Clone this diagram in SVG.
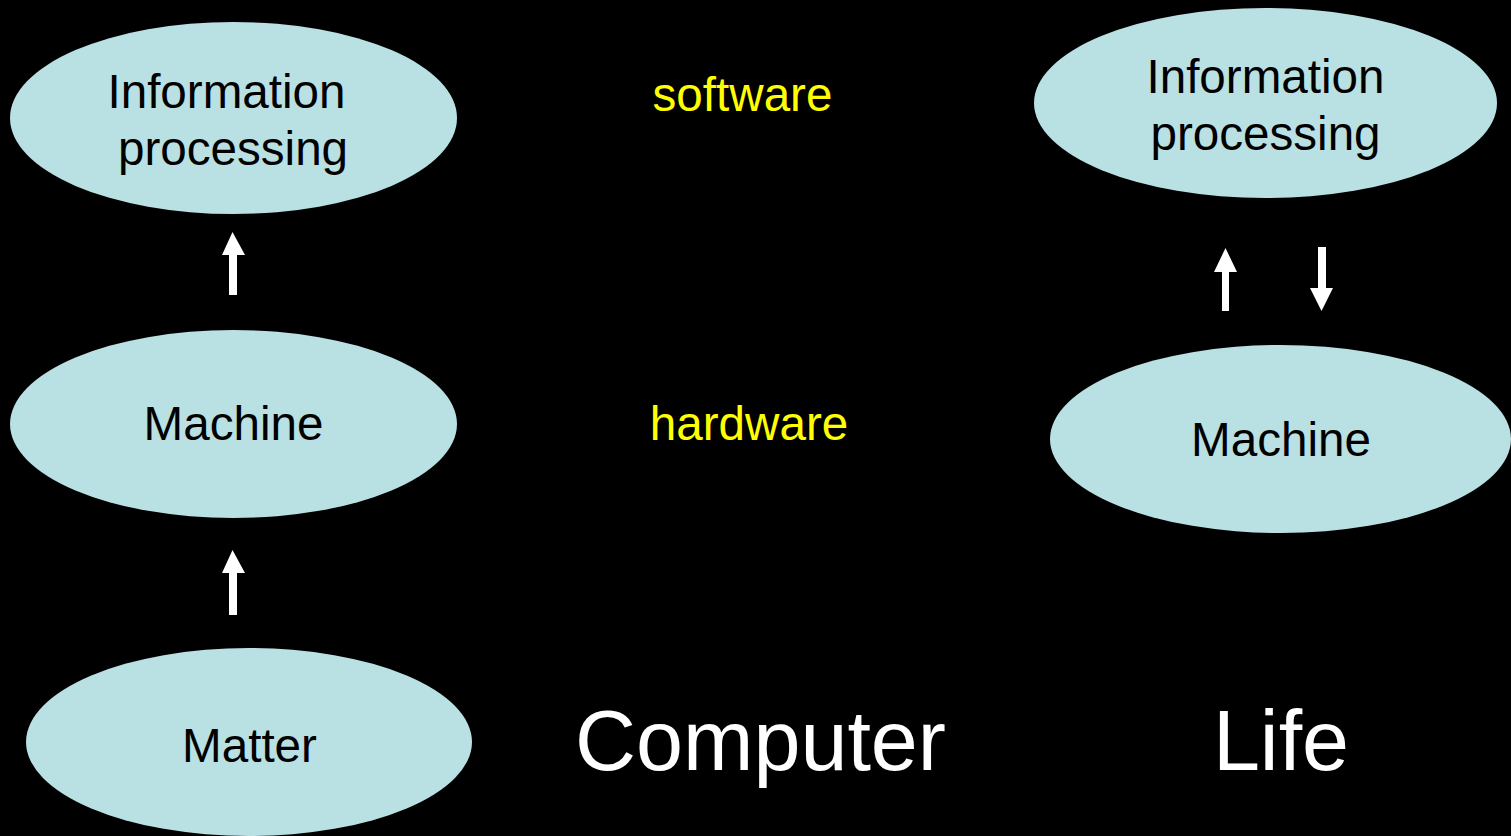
<svg xmlns="http://www.w3.org/2000/svg" width="1511" height="836" viewBox="0 0 1511 836">
<style>
.node{fill:#b9e0e3}
.lbl{font-family:"Liberation Sans",Arial,sans-serif;font-size:47.6px;fill:#000;text-anchor:middle}
.ylw{font-family:"Liberation Sans",Arial,sans-serif;font-size:47.6px;fill:#ffff00;text-anchor:middle}
.big{font-family:"Liberation Sans",Arial,sans-serif;font-size:84.5px;fill:#fff;text-anchor:middle}
.arr{fill:#fff}
</style>
<rect width="1511" height="836" fill="#000"/>
<g id="left-info"><ellipse class="node" cx="233.5" cy="118" rx="223.5" ry="96"/><text class="lbl" x="226.5" y="108">Information</text><text class="lbl" x="233" y="165">processing</text></g>
<g id="left-machine"><ellipse class="node" cx="233.5" cy="424" rx="223.5" ry="94"/><text class="lbl" x="233.5" y="440">Machine</text></g>
<g id="left-matter"><ellipse class="node" cx="249" cy="742" rx="223" ry="94"/><text class="lbl" x="249.5" y="762">Matter</text></g>
<g id="right-info"><ellipse class="node" cx="1265.5" cy="103" rx="231.5" ry="95"/><text class="lbl" x="1265.5" y="93">Information</text><text class="lbl" x="1265.5" y="150">processing</text></g>
<g id="right-machine"><ellipse class="node" cx="1280.5" cy="439" rx="230.5" ry="94"/><text class="lbl" x="1281" y="456">Machine</text></g>
<g id="labels"><text class="ylw" x="742.5" y="111">software</text><text class="ylw" x="749" y="440">hardware</text><text class="big" x="760.5" y="770">Computer</text><text class="big" x="1281" y="770">Life</text></g>
<g id="connectors">
<polygon class="arr" points="232.5,232 245,255 237,255 237,295 229,295 229,255 222,255"/>
<polygon class="arr" points="232.5,550 245,573 237,573 237,615 229,615 229,573 222,573"/>
<polygon class="arr" points="1225.5,248 1237,272 1229,272 1229,311 1222,311 1222,272 1214,272"/>
<polygon class="arr" points="1321.5,311 1333,288 1326,288 1326,247 1318,247 1318,288 1310,288"/>
</g>
</svg>
